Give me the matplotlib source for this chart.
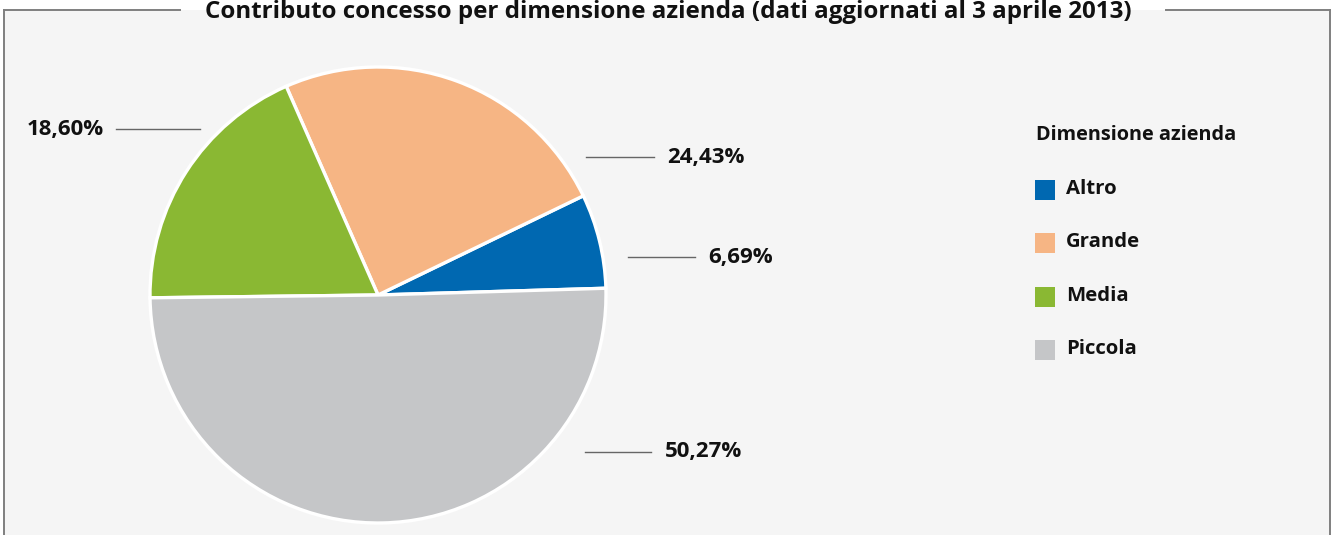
import matplotlib.pyplot as plt
from matplotlib.patches import Rectangle

plt.rcParams['font.family'] = ['Open Sans', 'DejaVu Sans']

# Dati
categorie = ['Altro', 'Grande', 'Media', 'Piccola']
percentuali = [6.69, 24.43, 18.60, 50.27]
colori = ['#0068b1', '#f6b584', '#8ab833', '#c5c6c8']
titolo = 'Contributo concesso per dimensione azienda (dati aggiornati al 3 aprile 2013)'
titolo_legenda = 'Dimensione azienda'

W, H = 1334, 535
fig = plt.figure(figsize=(W / 100, H / 100), dpi=100)
fig.patch.set_facecolor('white')

# overlay in pixel per cornice, titolo, etichette e legenda
ov = fig.add_axes([0, 0, 1, 1])
ov.set_xlim(0, W)
ov.set_ylim(H, 0)
ov.axis('off')

bordo = '#7f7f7f'
ov.add_patch(Rectangle((4, 10), 1326, 540, facecolor='#f5f5f5', edgecolor='none', zorder=0))
ov.plot([4, 4], [10, H + 5], color=bordo, lw=1.4, zorder=1)
ov.plot([1330, 1330], [10, H + 5], color=bordo, lw=1.4, zorder=1)
ov.plot([4, 180], [10, 10], color=bordo, lw=1.4, zorder=1)
ov.plot([1166, 1330], [10, 10], color=bordo, lw=1.4, zorder=1)
ov.text(668, 12, titolo, ha='center', va='center', fontsize=17.4, fontweight='bold', color='#111111')

# torta
cx, cy, r = 378, 295, 228
ax = fig.add_axes([(cx - r) / W, (H - cy - r) / H, 2 * r / W, 2 * r / H])
ax.pie(percentuali, colors=colori, startangle=1.7, counterclock=True,
       wedgeprops=dict(edgecolor='white', linewidth=2.4))
ax.set_xlim(-1, 1)
ax.set_ylim(-1, 1)
ax.set_aspect('auto')
ax.axis('off')

# etichette con linee guida: (inizio linea, fine linea, y, allineamento, x testo)
etichette = {
    'Altro': (628, 695, 257, 'left', 708),
    'Grande': (586, 654, 157, 'left', 667),
    'Media': (116, 200, 129, 'right', 104),
    'Piccola': (585, 651, 452, 'left', 665),
}
for cat, val in zip(categorie, percentuali):
    x0, x1, y, ha, xt = etichette[cat]
    ov.plot([x0, x1], [y, y], color='#666666', lw=1.0)
    ov.text(xt, y, f'{val:.2f}%'.replace('.', ','), ha=ha, va='center',
            fontsize=16, fontweight='bold', color='#111111')

# legenda
ov.text(1036, 135, titolo_legenda, ha='left', va='center', fontsize=14.3,
        fontweight='bold', color='#111111')
for i, (cat, col) in enumerate(zip(categorie, colori)):
    y = 190 + i * 53.3
    ov.add_patch(Rectangle((1035, y - 10), 20, 20, facecolor=col, edgecolor='none'))
    ov.text(1066, y - 1, cat, ha='left', va='center', fontsize=14.7,
            fontweight='bold', color='#111111')

fig.savefig('out.png', dpi=100)
